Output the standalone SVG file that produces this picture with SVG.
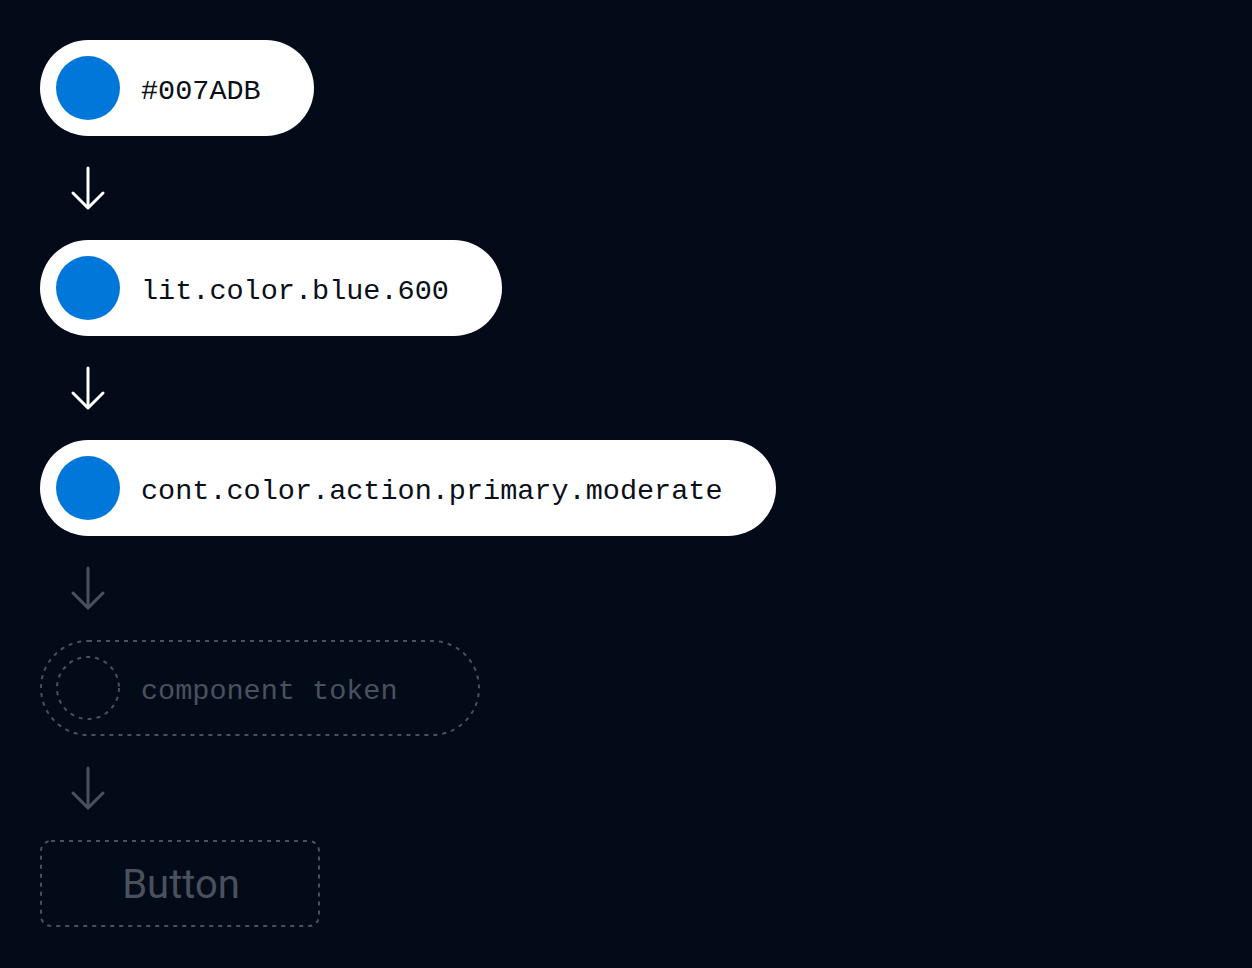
<svg xmlns="http://www.w3.org/2000/svg" width="1252" height="968" viewBox="0 0 1252 968">
<style>
.pill{fill:#ffffff}
.dot{fill:#0077d9}
.lbl{font-family:"Liberation Mono","DejaVu Sans Mono",monospace;font-size:28.5px;fill:#0a0f1a}
.ghost{fill:none;stroke:#4a515e;stroke-width:2;stroke-dasharray:4 5}
.glbl{font-family:"Liberation Mono","DejaVu Sans Mono",monospace;font-size:28.5px;fill:#4a515e}
.arr{fill:none;stroke:#ffffff;stroke-width:3;stroke-linecap:round;stroke-linejoin:round}
.arr.dim{stroke:#4a515e}
</style>
<rect width="1252" height="968" fill="#030b19"/>
<g id="connectors">
<path class="arr" d="M88 168V208M73 193L88 208L103 193"/>
<path class="arr" d="M88 368V408M73 393L88 408L103 393"/>
<path class="arr dim" d="M88 568V608M73 593L88 608L103 593"/>
<path class="arr dim" d="M88 768V808M73 793L88 808L103 793"/>
</g>
<g id="hex">
<rect class="pill" x="40" y="40" width="274" height="96" rx="48"/>
<circle class="dot" cx="88" cy="88" r="32"/>
<text class="lbl" x="141" y="99">#007ADB</text>
</g>
<g id="literal">
<rect class="pill" x="40" y="240" width="462" height="96" rx="48"/>
<circle class="dot" cx="88" cy="288" r="32"/>
<text class="lbl" x="141" y="299">lit.color.blue.600</text>
</g>
<g id="context">
<rect class="pill" x="40" y="440" width="736" height="96" rx="48"/>
<circle class="dot" cx="88" cy="488" r="32"/>
<text class="lbl" x="141" y="499">cont.color.action.primary.moderate</text>
</g>
<g id="component">
<rect class="ghost" x="41" y="641" width="438" height="94" rx="47"/>
<circle class="ghost" cx="88" cy="688" r="31"/>
<text class="glbl" x="141" y="699">component token</text>
</g>
<g id="button">
<rect class="ghost" x="41" y="841" width="278" height="85" rx="10"/>
<text x="181" y="898" text-anchor="middle" font-family="Roboto,'Liberation Sans',sans-serif" font-size="40" fill="#4a515e">Button</text>
</g>
</svg>
